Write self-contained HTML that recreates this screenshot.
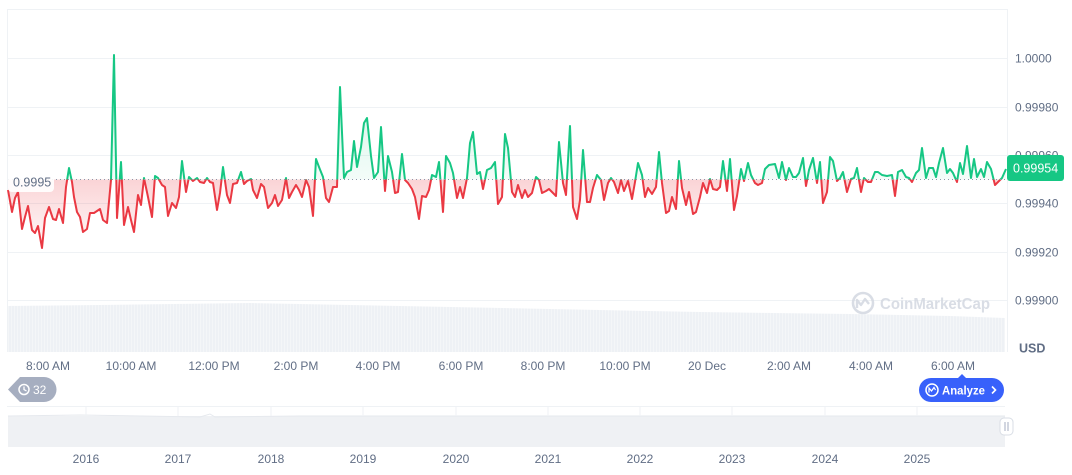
<!DOCTYPE html>
<html><head><meta charset="utf-8"><style>
html,body{margin:0;padding:0;background:#fff;}
body{width:1072px;height:470px;overflow:hidden;font-family:"Liberation Sans",sans-serif;}
svg text{font-family:"Liberation Sans",sans-serif;}
</style></head><body>
<svg width="1072" height="470" viewBox="0 0 1072 470" xmlns="http://www.w3.org/2000/svg">
<defs>
<clipPath id="above"><rect x="0" y="0" width="1007" height="179.5"/></clipPath>
<clipPath id="below"><rect x="0" y="179.5" width="1007" height="200"/></clipPath>
<linearGradient id="gr" x1="0" y1="179.5" x2="0" y2="250" gradientUnits="userSpaceOnUse">
<stop offset="0" stop-color="#ea3943" stop-opacity="0.22"/><stop offset="1" stop-color="#ea3943" stop-opacity="0.02"/></linearGradient>
<linearGradient id="gg" x1="0" y1="60" x2="0" y2="179.5" gradientUnits="userSpaceOnUse">
<stop offset="0" stop-color="#16c784" stop-opacity="0.22"/><stop offset="1" stop-color="#16c784" stop-opacity="0.05"/></linearGradient>
<pattern id="vp" width="3" height="60" patternUnits="userSpaceOnUse"><rect width="3" height="60" fill="#eef1f5"/><rect x="2" width="1" height="60" fill="#f4f6f8"/></pattern>
<polygon id="area" points="8,179.5 8,190 12,212 15,198 18,192 22,229 25,217 28,206 32,230 35,233 38,226 42,248 45,218 49,207 53,219 56,220 59,209 63,223 66,187 69,168 72,182 74,197 77,212 80,217 83,232 87,229 90,213 94,213 97,211 100,209 103,220 107,223 111,180 114,55 117,218 121,162 124,225 128,207 131,220 134,232 138,195 141,205 144,178 148,197 152,217 155,176 158,178 162,185 165,187 168,216 172,203 176,208 179,197 182,161 186,192 189,177 193,181 197,178 200,182 204,183 207,178 210,182 213,183 217,210 220,193 223,167 227,195 230,203 233,184 237,183 241,172 244,184 247,181 251,179 253,190 257,198 261,184 264,187 268,208 272,203 275,195 278,206 282,200 286,178 289,198 292,192 296,185 299,190 302,197 306,180 309,187 313,216 316,159 319,167 323,177 326,198 329,202 333,187 337,187 340,87 344,178 347,172 351,170 354,141 357,167 361,147 364,123 367,118 371,156 374,178 378,172 381,127 385,191 388,156 392,172 395,193 398,192 402,154 405,180 408,183 412,189 415,197 419,219 422,196 426,197 429,190 432,175 436,177 439,162 443,212 446,156 450,163 453,173 457,198 460,187 463,198 467,178 470,143 473,132 477,174 480,172 483,189 487,170 491,168 495,162 498,204 502,197 505,134 508,148 512,192 515,197 518,185 522,198 525,190 528,197 532,193 536,177 539,180 542,193 546,191 549,189 553,193 556,196 559,142 563,183 566,195 570,126 573,207 577,219 580,200 583,150 587,202 590,202 593,188 597,175 601,180 604,200 608,183 611,178 614,182 618,193 621,180 624,191 628,181 632,199 635,182 638,163 642,175 645,197 648,188 652,194 656,187 659,152 662,183 666,213 669,211 672,197 676,209 679,161 682,188 686,205 689,192 693,214 696,212 700,197 703,183 707,193 710,179 713,189 717,190 720,187 723,161 727,191 730,159 734,210 737,196 741,169 744,181 748,163 751,175 755,183 758,185 762,183 765,169 769,165 775,164 779,178 782,162 786,180 789,168 793,177 796,177 799,173 803,158 806,186 809,170 813,158 817,183 820,162 823,203 827,192 830,157 833,161 837,181 840,178 843,172 847,192 851,179 854,178 857,168 861,192 864,178 868,182 871,182 875,172 878,172 882,175 887,176 892,175 895,196 898,172 902,170 906,177 909,178 912,182 916,173 919,170 922,148 926,178 929,168 933,168 936,177 939,163 943,148 947,173 950,169 953,173 957,182 960,163 963,174 967,146 971,178 974,159 977,177 981,169 984,177 987,162 991,169 995,185 998,182 1002,178 1006,169 1006,179.5"/>
<polyline id="ln" points="8,190 12,212 15,198 18,192 22,229 25,217 28,206 32,230 35,233 38,226 42,248 45,218 49,207 53,219 56,220 59,209 63,223 66,187 69,168 72,182 74,197 77,212 80,217 83,232 87,229 90,213 94,213 97,211 100,209 103,220 107,223 111,180 114,55 117,218 121,162 124,225 128,207 131,220 134,232 138,195 141,205 144,178 148,197 152,217 155,176 158,178 162,185 165,187 168,216 172,203 176,208 179,197 182,161 186,192 189,177 193,181 197,178 200,182 204,183 207,178 210,182 213,183 217,210 220,193 223,167 227,195 230,203 233,184 237,183 241,172 244,184 247,181 251,179 253,190 257,198 261,184 264,187 268,208 272,203 275,195 278,206 282,200 286,178 289,198 292,192 296,185 299,190 302,197 306,180 309,187 313,216 316,159 319,167 323,177 326,198 329,202 333,187 337,187 340,87 344,178 347,172 351,170 354,141 357,167 361,147 364,123 367,118 371,156 374,178 378,172 381,127 385,191 388,156 392,172 395,193 398,192 402,154 405,180 408,183 412,189 415,197 419,219 422,196 426,197 429,190 432,175 436,177 439,162 443,212 446,156 450,163 453,173 457,198 460,187 463,198 467,178 470,143 473,132 477,174 480,172 483,189 487,170 491,168 495,162 498,204 502,197 505,134 508,148 512,192 515,197 518,185 522,198 525,190 528,197 532,193 536,177 539,180 542,193 546,191 549,189 553,193 556,196 559,142 563,183 566,195 570,126 573,207 577,219 580,200 583,150 587,202 590,202 593,188 597,175 601,180 604,200 608,183 611,178 614,182 618,193 621,180 624,191 628,181 632,199 635,182 638,163 642,175 645,197 648,188 652,194 656,187 659,152 662,183 666,213 669,211 672,197 676,209 679,161 682,188 686,205 689,192 693,214 696,212 700,197 703,183 707,193 710,179 713,189 717,190 720,187 723,161 727,191 730,159 734,210 737,196 741,169 744,181 748,163 751,175 755,183 758,185 762,183 765,169 769,165 775,164 779,178 782,162 786,180 789,168 793,177 796,177 799,173 803,158 806,186 809,170 813,158 817,183 820,162 823,203 827,192 830,157 833,161 837,181 840,178 843,172 847,192 851,179 854,178 857,168 861,192 864,178 868,182 871,182 875,172 878,172 882,175 887,176 892,175 895,196 898,172 902,170 906,177 909,178 912,182 916,173 919,170 922,148 926,178 929,168 933,168 936,177 939,163 943,148 947,173 950,169 953,173 957,182 960,163 963,174 967,146 971,178 974,159 977,177 981,169 984,177 987,162 991,169 995,185 998,182 1002,178 1006,169"/>
</defs>
<!-- grid -->
<g stroke="#eff2f5" stroke-width="1">
<line x1="7" y1="9.5" x2="1007" y2="9.5"/>
<line x1="7" y1="58.5" x2="1007" y2="58.5"/>
<line x1="7" y1="107.5" x2="1007" y2="107.5"/>
<line x1="7" y1="155.5" x2="1007" y2="155.5"/>
<line x1="7" y1="203.5" x2="1007" y2="203.5"/>
<line x1="7" y1="252.5" x2="1007" y2="252.5"/>
<line x1="7" y1="300.5" x2="1007" y2="300.5"/>
<line x1="7.5" y1="9" x2="7.5" y2="352"/>
<line x1="1007.5" y1="9" x2="1007.5" y2="352"/>
</g>
<!-- volume -->
<polygon points="8,306 100,305 250,303 400,306 550,309 700,312 850,314 950,316 1005,318 1005,352 8,352" fill="url(#vp)"/>
<!-- watermark -->
<g opacity="0.85">
<circle cx="863" cy="303" r="10" fill="none" stroke="#d3d8e1" stroke-width="2.6"/>
<path d="M857,308 L857,300 L861,305 L865,299 L869,304" fill="none" stroke="#d3d8e1" stroke-width="2.4" stroke-linejoin="round"/>
<text x="880" y="309" font-size="16" font-weight="bold" fill="#d3d8e1" textLength="110" lengthAdjust="spacingAndGlyphs">CoinMarketCap</text>
</g>
<!-- series -->
<g clip-path="url(#below)"><use href="#area" fill="url(#gr)"/></g>
<g clip-path="url(#above)"><use href="#area" fill="url(#gg)"/></g>
<g clip-path="url(#below)"><use href="#ln" fill="none" stroke="#ea3943" stroke-width="2" stroke-linejoin="round"/></g>
<g clip-path="url(#above)"><use href="#ln" fill="none" stroke="#16c784" stroke-width="2" stroke-linejoin="round"/></g>
<!-- baseline dotted -->
<line x1="8" y1="179.5" x2="1006" y2="179.5" stroke="#8f98aa" stroke-width="1" stroke-dasharray="1,3"/>
<rect x="8" y="172" width="46" height="20" rx="4" fill="#fff" opacity="0.9"/>
<text x="13" y="186.5" font-size="12.5" fill="#616e85">0.9995</text>
<!-- right axis -->
<g font-size="12" fill="#616e85">
<text x="1015" y="62.5">1.0000</text>
<text x="1015" y="111.5">0.99980</text>
<text x="1015" y="159.5">0.99960</text>
<text x="1015" y="207.5">0.99940</text>
<text x="1015" y="256.5">0.99920</text>
<text x="1015" y="304.5">0.99900</text>
<text x="1019" y="352.5" font-weight="bold" font-size="12.5">USD</text>
</g>
<rect x="1007" y="155" width="57" height="26" rx="3" fill="#16c784"/>
<text x="1013" y="172.5" font-size="12.5" fill="#fff">0.99954</text>
<!-- x axis -->
<g font-size="12" fill="#616e85" text-anchor="middle">
<text x="48" y="370">8:00 AM</text>
<text x="131" y="370">10:00 AM</text>
<text x="214" y="370">12:00 PM</text>
<text x="296" y="370">2:00 PM</text>
<text x="378" y="370">4:00 PM</text>
<text x="461" y="370">6:00 PM</text>
<text x="543" y="370">8:00 PM</text>
<text x="625" y="370">10:00 PM</text>
<text x="707" y="370">20 Dec</text>
<text x="789" y="370">2:00 AM</text>
<text x="871" y="370">4:00 AM</text>
<text x="953" y="370">6:00 AM</text>
</g>
<!-- badge 32 -->
<path d="M20,377 L44,377 A12.5,12.5 0 0 1 44,402 L20,402 L8,389.5 Z" fill="#a6aec0"/>
<circle cx="24" cy="389.5" r="5" fill="none" stroke="#fff" stroke-width="1.5"/>
<path d="M24,386.5 L24,389.5 L26.5,391" fill="none" stroke="#fff" stroke-width="1.3"/>
<text x="33" y="394" font-size="12" fill="#fff">32</text>
<!-- analyze -->
<path d="M931,378 L958,378 L962,374 L966,378 L992,378 A12,12 0 0 1 992,402 L931,402 A12,12 0 0 1 931,378 Z" fill="#3861fb"/>
<circle cx="932" cy="390" r="6" fill="none" stroke="#fff" stroke-width="1.5"/>
<path d="M929,392.5 L929,388 L931.5,391 L934,387.5 L935.5,390" fill="none" stroke="#fff" stroke-width="1.2"/>
<text x="942" y="394.5" font-size="12" font-weight="bold" fill="#fff" textLength="43" lengthAdjust="spacingAndGlyphs">Analyze</text>
<path d="M992,386.5 L995.5,390 L992,393.5" fill="none" stroke="#fff" stroke-width="1.6"/>
<!-- navigator -->
<line x1="7" y1="406.5" x2="1005" y2="406.5" stroke="#eff2f5"/>
<rect x="8" y="416" width="997" height="31" fill="#eff1f4"/>
<path d="M8,416 L80,415 L200,417 L210,414 L215,417 L300,416 L1005,416" fill="none" stroke="#e6e9ee" stroke-width="1"/>
<g stroke="#eff2f5">
<line x1="86" y1="407" x2="86" y2="416"/><line x1="178" y1="407" x2="178" y2="416"/><line x1="271" y1="407" x2="271" y2="416"/><line x1="363" y1="407" x2="363" y2="416"/><line x1="456" y1="407" x2="456" y2="416"/><line x1="548" y1="407" x2="548" y2="416"/><line x1="640" y1="407" x2="640" y2="416"/><line x1="732" y1="407" x2="732" y2="416"/><line x1="825" y1="407" x2="825" y2="416"/><line x1="917" y1="407" x2="917" y2="416"/>
</g>
<rect x="1000" y="418" width="13" height="17" rx="4" fill="#fff" stroke="#d8dde5"/>
<line x1="1005" y1="422" x2="1005" y2="431" stroke="#a6aec0"/><line x1="1008" y1="422" x2="1008" y2="431" stroke="#a6aec0"/>
<g font-size="12" fill="#616e85" text-anchor="middle">
<text x="86" y="463">2016</text><text x="178" y="463">2017</text><text x="271" y="463">2018</text><text x="363" y="463">2019</text><text x="456" y="463">2020</text><text x="548" y="463">2021</text><text x="640" y="463">2022</text><text x="732" y="463">2023</text><text x="825" y="463">2024</text><text x="917" y="463">2025</text>
</g>
</svg>
</body></html>
